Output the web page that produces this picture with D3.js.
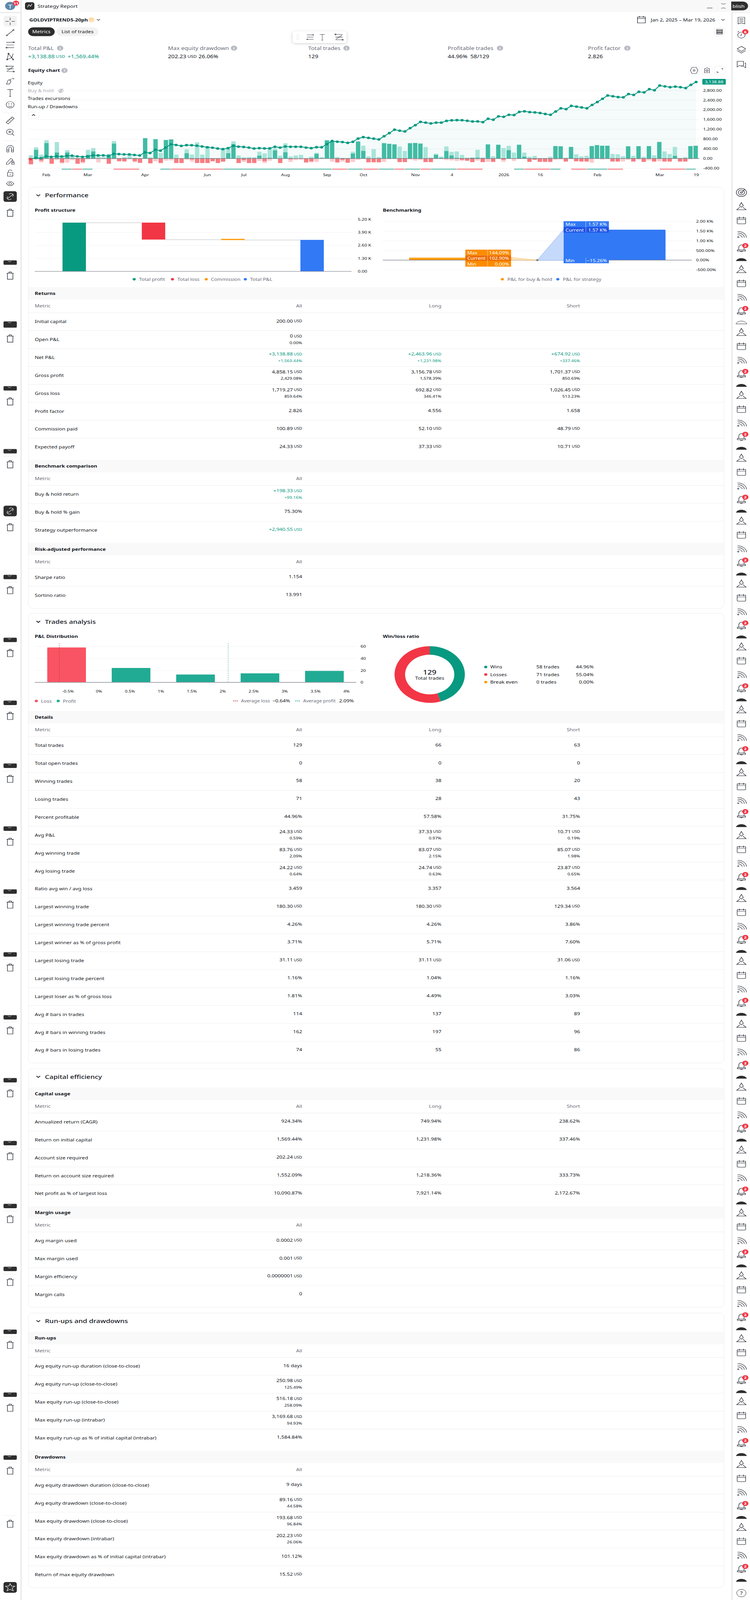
<!DOCTYPE html>
<html>
<head>
<meta charset="utf-8">
<title>Strategy Report</title>
<script src="https://cdn.jsdelivr.net/npm/d3@7"></script>
<style>
	html, body { margin: 0; padding: 0; background: #fff; overflow: hidden; }
	svg { display: block; }
	svg text { font-family: 'Noto Sans', sans-serif; }
</style>
</head>
<body>
<svg id="report" width="1920" height="5088" viewBox="0 0 1920 5088" preserveAspectRatio="none"></svg>
<script>
// equity chart, one entry per closed trade
const equityValues = [
	-25, 25, 10, 95, 65, 95, 82, 112, 116, 86,
	65, 86, 129, 129, 129, 103, 189, 181, 168, 168,
	146, 125, 254, 224, 361, 322, 447, 580, 555, 516,
	550, 546, 525, 494, 460, 443, 408, 383, 426, 516,
	486, 473, 447, 408, 426, 413, 417, 482, 447, 494,
	482, 482, 482, 447, 426, 464, 460, 589, 718, 688,
	675, 641, 684, 817, 877, 847, 813, 783, 912, 1041,
	1183, 1140, 1109, 1245, 1368, 1502, 1472, 1438, 1472, 1472,
	1541, 1566, 1576, 1571, 1546, 1517, 1522, 1492, 1630, 1591,
	1729, 1709, 1793, 1783, 1912, 1936, 1902, 1892, 1867, 1828,
	1793, 1927, 2060, 2025, 2159, 2129, 2095, 2060, 2198, 2317,
	2450, 2584, 2554, 2519, 2510, 2643, 2608, 2737, 2712, 2845,
	2801, 2994, 2959, 2924, 2949, 2924, 2890, 3023, 3138.88
]
const runUpFull = [
	133, 459, 159, 752, 0, 675, 116, 344, 95, 0,
	0, 353, 430, 159, 60, 189, 718, 0, 60, 181,
	30, 0, 834, 52, 791, 232, 757, 783, 159, 0,
	374, 159, 662, 159, 503, 0, 0, 396, 396, 705,
	125, 52, 60, 52, 275, 211, 417, 417, 116, 623,
	82, 125, 150, 0, 73, 236, 60, 748, 718, 60,
	26, 22, 280, 697, 525, 86, 383, 60, 628, 602,
	580, 490, 310, 627, 637, 612, 469, 44, 198, 84,
	494, 272, 291, 148, 35, 44, 356, 44, 578, 94,
	563, 430, 519, 242, 563, 242, 69, 109, 0, 0,
	69, 509, 499, 35, 474, 173, 84, 109, 509, 548,
	524, 524, 188, 173, 94, 499, 109, 504, 69, 509,
	133, 677, 291, 183, 474, 20, 59, 509, 524
]
const runUpClosed = [
	0, 356, 0, 632, 0, 245, 0, 245, 0, 0,
	0, 146, 288, 0, 0, 103, 611, 0, 0, 17,
	0, 0, 834, 0, 791, 0, 757, 783, 0, 0,
	215, 0, 0, 0, 0, 0, 0, 0, 215, 589,
	0, 0, 0, 0, 116, 0, 30, 331, 0, 254,
	0, 0, 0, 0, 0, 189, 0, 748, 718, 0,
	0, 0, 202, 697, 310, 0, 0, 0, 628, 602,
	580, 0, 0, 627, 637, 612, 0, 0, 148, 25,
	306, 124, 25, 0, 0, 25, 35, 0, 578, 0,
	563, 0, 341, 0, 563, 74, 0, 0, 0, 0,
	0, 509, 499, 0, 474, 0, 0, 0, 509, 548,
	524, 524, 0, 0, 0, 499, 0, 504, 0, 509,
	0, 677, 0, 0, 109, 0, 0, 509, 524
]
const drawdownClosed = [
	237, 0, 89, 0, 215, 0, 163, 0, 0, 215,
	142, 0, 0, 0, 0, 215, 0, 112, 112, 0,
	112, 176, 0, 198, 0, 185, 0, 0, 185, 185,
	0, 43, 185, 185, 185, 112, 185, 129, 0, 0,
	185, 69, 185, 185, 0, 112, 0, 0, 185, 0,
	34, 0, 0, 155, 120, 0, 13, 0, 0, 163,
	56, 172, 0, 0, 0, 155, 155, 155, 0, 0,
	0, 145, 148, 0, 0, 0, 148, 148, 0, 0,
	0, 0, 0, 54, 89, 148, 0, 148, 0, 138,
	0, 54, 0, 0, 0, 0, 138, 54, 138, 138,
	138, 0, 0, 124, 0, 114, 124, 124, 0, 0,
	0, 0, 124, 124, 0, 0, 124, 0, 138, 0,
	124, 0, 124, 124, 0, 124, 124, 0, 0
]
const drawdownFull = [
	237, 50, 163, 0, 215, 69, 206, 172, 69, 215,
	198, 34, 26, 163, 26, 215, 34, 112, 142, 34,
	155, 176, 0, 198, 120, 185, 90, 77, 185, 185,
	56, 129, 185, 185, 185, 112, 185, 129, 0, 0,
	185, 142, 185, 185, 99, 185, 90, 0, 185, 0,
	142, 69, 56, 176, 155, 142, 13, 0, 129, 163,
	129, 172, 142, 56, 0, 155, 155, 155, 142, 25,
	0, 145, 148, 40, 89, 64, 148, 148, 25, 25,
	64, 79, 104, 99, 104, 148, 89, 148, 138, 138,
	0, 138, 0, 99, 25, 0, 138, 54, 138, 138,
	138, 54, 40, 124, 25, 114, 124, 124, 173, 0,
	44, 25, 124, 124, 124, 54, 124, 40, 138, 79,
	124, 114, 124, 124, 0, 124, 124, 30, 0
]
const equityTicks = [-400, 0, 400, 800, 1200, 1600, 2000, 2400, 2800]
const dateTickTrades = [3, 11, 22, 34, 41, 49, 57, 64, 74, 81, 91, 98, 109, 121, 128]
const dateTickLabels = ['Feb', 'Mar', 'Apr', 'Jun', 'Jul', 'Aug', 'Sep', 'Oct', 'Nov', '4', '2026', '16', 'Feb', 'Mar', '19']
// trade index at which each coloured strip starts and ends
const stripStarts = [6, 8, 10, 16, 25, 27, 37, 58, 61, 64, 67, 70, 72, 75, 77, 82, 93, 95, 100, 104, 107, 111, 121, 126]
const stripEnds = [8, 10, 12, 21, 27, 37, 58, 61, 64, 67, 70, 72, 75, 77, 82, 87, 95, 100, 102, 107, 111, 114, 126, 128]
const stripKinds = ['up', 'down', 'up', 'down', 'up', 'down', 'up', 'down', 'up', 'down', 'up', 'down', 'up', 'down', 'up', 'down', 'up', 'down', 'up', 'down', 'up', 'down', 'down', 'up']

// profit structure
const structureNames = ['Total profit', 'Total loss', 'Commission', 'Total P&L']
const structureTops = [4858.15, 4858.15, 3239.77, 3138.88]
const structureBottoms = [0, 3170, 3120, 0]
const structureTicks = [0, 1300, 2600, 3900, 5200]

// benchmarking
const benchNames = ['P&L for buy & hold', 'P&L for strategy']
const benchMax = [144.09, 1570]
const benchCurrent = [102.9, 1569.44]
const benchMin = [0, -15.26]
const benchTicks = [-500, 0, 500, 1000, 1500, 2000]

// P&L distribution
const pnlBins = ['-0.5', '0.5', '1.5', '2.5', '3.5']
const pnlCounts = [58, 24, 13, 15, 19]
const pnlTicks = [-0.5, 0, 0.5, 1, 1.5, 2, 2.5, 3, 3.5, 4]
const pnlCountTicks = [0, 20, 40, 60]
const avgLossPct = -0.64
const avgProfitPct = 2.09

// win/loss ratio
const outcomeNames = ['Wins', 'Losses', 'Break even']
const outcomeTrades = [58, 71, 0]
const outcomePercents = ['44.96%', '55.04%', '0.00%']

// tables: metric, all, long, short. A "|" splits amount and percent lines.
const returnsRows = [
	['Initial capital', '200.00 USD'],
	['Open P&L', '0 USD|0.00%'],
	['Net P&L', '+3,138.88 USD|+1,569.44%', '+2,463.96 USD|+1,231.98%', '+674.92 USD|+337.46%'],
	['Gross profit', '4,858.15 USD|2,429.08%', '3,156.78 USD|1,578.39%', '1,701.37 USD|850.69%'],
	['Gross loss', '1,719.27 USD|859.64%', '692.82 USD|346.41%', '1,026.45 USD|513.23%'],
	['Profit factor', '2.826', '4.556', '1.658'],
	['Commission paid', '100.89 USD', '52.10 USD', '48.79 USD'],
	['Expected payoff', '24.33 USD', '37.33 USD', '10.71 USD']
]
const benchmarkRows = [
	['Buy & hold return', '+198.33 USD|+99.16%'],
	['Buy & hold % gain', '75.30%'],
	['Strategy outperformance', '+2,940.55 USD']
]
const riskRows = [
	['Sharpe ratio', '1.154'],
	['Sortino ratio', '13.991']
]
const detailsRows = [
	['Total trades', '129', '66', '63'],
	['Total open trades', '0', '0', '0'],
	['Winning trades', '58', '38', '20'],
	['Losing trades', '71', '28', '43'],
	['Percent profitable', '44.96%', '57.58%', '31.75%'],
	['Avg P&L', '24.33 USD|0.59%', '37.33 USD|0.97%', '10.71 USD|0.19%'],
	['Avg winning trade', '83.76 USD|2.09%', '83.07 USD|2.15%', '85.07 USD|1.98%'],
	['Avg losing trade', '24.22 USD|0.64%', '24.74 USD|0.63%', '23.87 USD|0.65%'],
	['Ratio avg win / avg loss', '3.459', '3.357', '3.564'],
	['Largest winning trade', '180.30 USD', '180.30 USD', '129.34 USD'],
	['Largest winning trade percent', '4.26%', '4.26%', '3.86%'],
	['Largest winner as % of gross profit', '3.71%', '5.71%', '7.60%'],
	['Largest losing trade', '31.11 USD', '31.11 USD', '31.06 USD'],
	['Largest losing trade percent', '1.16%', '1.04%', '1.16%'],
	['Largest loser as % of gross loss', '1.81%', '4.49%', '3.03%'],
	['Avg # bars in trades', '114', '137', '89'],
	['Avg # bars in winning trades', '162', '197', '96'],
	['Avg # bars in losing trades', '74', '55', '86']
]
const capitalRows = [
	['Annualized return (CAGR)', '924.34%', '749.94%', '238.62%'],
	['Return on initial capital', '1,569.44%', '1,231.98%', '337.46%'],
	['Account size required', '202.24 USD'],
	['Return on account size required', '1,552.09%', '1,218.36%', '333.73%'],
	['Net profit as % of largest loss', '10,090.87%', '7,921.14%', '2,172.67%']
]
const marginRows = [
	['Avg margin used', '0.0002 USD'],
	['Max margin used', '0.001 USD'],
	['Margin efficiency', '0.0000001 USD'],
	['Margin calls', '0']
]
const runUpRows = [
	['Avg equity run-up duration (close-to-close)', '16 days'],
	['Avg equity run-up (close-to-close)', '250.98 USD|125.49%'],
	['Max equity run-up (close-to-close)', '516.18 USD|258.09%'],
	['Max equity run-up (intrabar)', '3,169.68 USD|94.93%'],
	['Max equity run-up as % of initial capital (intrabar)', '1,584.84%']
]
const drawdownRows = [
	['Avg equity drawdown duration (close-to-close)', '9 days'],
	['Avg equity drawdown (close-to-close)', '89.16 USD|44.58%'],
	['Max equity drawdown (close-to-close)', '193.68 USD|96.84%'],
	['Max equity drawdown (intrabar)', '202.23 USD|26.06%'],
	['Max equity drawdown as % of initial capital (intrabar)', '101.12%'],
	['Return of max equity drawdown', '15.52 USD']
]

const ink = '#131722'
const muted = '#6a6d78'
const teal = '#089981'
const red = '#f23645'
const orange = '#ff9800'
const blue = '#3179f5'
const gridColor = '#f0f0f0'
const lineColor = '#ebebeb'
const baseColor = '#787b86'

// the window can be shorter than the page: squeeze to fit so nothing is lost
const root = d3.select('#report')
	.attr('height', Math.min(5088, window.innerHeight || 5088))

const txt = (x, y, s, o = {}) => (o.g || root).append('text')
	.attr('x', x)
	.attr('y', y)
	.attr('dominant-baseline', 'central')
	.attr('text-anchor', o.anchor || 'start')
	.attr('font-size', o.size || 13.5)
	.attr('font-weight', o.weight || 400)
	.attr('fill', o.fill || ink)
	.text(s)

// amount with the small currency unit
const money = (x, y, s, o = {}) => {
	const parts = s.split(' USD')
	const t = txt(x, y, parts[0], o)
	if (parts.length > 1) {
		t.append('tspan').attr('font-size', (o.size || 13.5) * 0.78).text(' USD')
	}
	return t
}

const dot = (x, y, color, r = 4) => root.append('circle')
	.attr('cx', x).attr('cy', y).attr('r', r).attr('fill', color)

const rect = (x, y, w, h, fill, o = {}) => root.append('rect')
	.attr('x', x).attr('y', y).attr('width', w).attr('height', h)
	.attr('rx', o.rx || 0)
	.attr('fill', fill)
	.attr('stroke', o.stroke || 'none')

const hline = (x1, x2, y, color = lineColor) => root.append('line')
	.attr('x1', x1).attr('x2', x2).attr('y1', y + 0.5).attr('y2', y + 0.5)
	.attr('stroke', color)

const ring = (x, y, r) => `M${x - r} ${y}a${r} ${r} 0 1 0 ${2 * r} 0a${r} ${r} 0 1 0 ${-2 * r} 0`

const iconPaths = {
	crosshair: 'M0-14V-4M0 4V14M-14 0H-4M4 0H14',
	trend: `M-9 9L9-9${ring(-10, 10, 2)}${ring(10, -10, 2)}`,
	fib: `M-12-10H12M-12 0H12M-12 10H12${ring(11, -10, 2)}${ring(-11, 10, 2)}`,
	pattern: `M-9 11L-5-11L5 4L9-11M-9 11L5 4L9 11M-5-11L9 11${ring(-9, 11, 2)}${ring(9, 11, 2)}${ring(-5, -11, 2)}`,
	forecast: `M-11-10H11M-11 0H11M-11 10H11M-9 8L9-8${ring(-11, -10, 2)}${ring(11, 10, 2)}`,
	brush: 'M-11 11L-6-4C-2-6 3-2 2 2L-2 11ZM-2-3L4-9M7-12C8-9 9-8 12-8',
	text: 'M-9-12H9M0-12V14M-3 14H3',
	smile: `${ring(0, 0, 12)}${ring(-4, -3, 0.7)}${ring(4, -3, 0.7)}M-5 4C-3 8 3 8 5 4`,
	ruler: 'M-12 7L6-13L12-8L-6 13ZM-7 2L-4 5M-2-3L1 0M3-8L6-5',
	zoomin: `${ring(-1, -2, 10)}M6 5L12 12M-1-7V3M-6-2H4`,
	magnet: 'M-10 12V-2C-10-16 10-16 10-2V12H4V-2C4-8-4-8-4-2V12ZM-10 5H-4M4 5H10',
	pencil: 'M-11 7L2-10L8-5L-5 12L-11 13ZM5 6H12V13H5ZM6 6V2C6-1 11-1 11 2V6',
	lock: 'M-8-2H8V12H-8ZM-5-2V-7C-5-13 5-13 5-7M0 3V7',
	eye: `M-11 1C-4-10 4-10 11 1C4 12-4 12-11 1Z${ring(0, 1, 4)}`,
	hidden: `M-11 1C-4-10 4-10 11 1C4 12-4 12-11 1Z${ring(0, 1, 4)}M-8 10L8-10`,
	chain: 'M-8 8L8-8M-3-8L-1-10C4-14 12-6 8-2L6 0M3 8L1 10C-4 14-12 6-8 2L-6 0',
	trash: 'M-7-7H7V12H-7ZM-9-7H9M-3-7V-11H3V-7',
	star: 'M0-12L3.5-4H12L5 2L8 11L0 6L-8 11L-5 2L-12-4H-3.5Z',
	list: 'M-10-12H10V13L0 9L-10 13ZM-6-6H6M-6-1H6M-6 4H6',
	alarm: `${ring(0, 2, 11)}M0-4V3H-5M-11-9L-7-13`,
	layers: 'M0-12L12-3L0 6L-12-3ZM-12 3L0 12L12 3',
	chat: 'M-12-11H6V4H-6L-12 9ZM9-5H12V12L7 7H-2',
	target: `${ring(0, 0, 13)}${ring(0, 0, 8)}${ring(0, 0, 2.5)}M2 -2L9-10`,
	triangle: 'M0-12L5-2L0 3L-5-2ZM-4 3L-12 11H12L4 3',
	calendar: 'M-12-8H12V11C12 12 11 13 10 13H-10C-11 13-12 12-12 11ZM-12-2H12M-6-12V-5M6-12V-5',
	signal: `${ring(-9, 10, 2)}M-11 2C-4 1 3 8 2 12M-11-4C-1-5 9 3 8 12M-11-10C3-11 15 1 14 12`,
	bell: 'M-7 5V-3C-7-9-3-12 0-12C3-12 7-9 7-3V5ZM-11 5H11V9H-11ZM-3 9C-3 12 3 12 3 9',
	settings: `M-7-12H7L12 0L7 12H-7L-12 0Z${ring(0, 0, 3)}`,
	camera: `M-8-7H-4L-2-10H2L4-7H8V9H-8Z${ring(0, 1, 3.5)}`,
	expand: 'M4-8H9V-3M-4 8H-9V3',
	calendarSmall: 'M-10-9H10V10H-10ZM-10-4H10M-5-12V-7M5-12V-7',
	rows: 'M-7-7H7V-3H-7ZM-7-1.5H7V2.5H-7ZM-7 4H7V8H-7Z',
	collapse: 'M-8-12C-8-8 8-8 8-12M-8 12C-8 8 8 8 8 12',
	chevDown: 'M-4-2L0 2L4-2',
	chevUp: 'M-4 2L0-2L4 2'
}

const icon = (name, x, y, o = {}) => root.append('path')
	.attr('d', iconPaths[name])
	.attr('transform', `translate(${x},${y}) scale(${o.scale || 1})`)
	.attr('fill', o.fill || 'none')
	.attr('stroke', o.stroke || ink)
	.attr('stroke-width', o.width || 1.3)

const badge = (x, y, s) => {
	dot(x, y, red, 8)
	txt(x, y, s, { anchor: 'middle', fill: '#fff', size: 11, weight: 700 })
}

const infoMark = (x, y, s = 'i') => {
	dot(x, y, '#b8bbc3', 8)
	txt(x, y, s, { anchor: 'middle', fill: '#fff', size: 11, weight: 700 })
}

const styleAxis = (g, size = 12) => {
	g.select('.domain').remove()
	g.selectAll('.tick line').attr('stroke', gridColor)
	g.selectAll('.tick text').attr('font-size', size).attr('fill', ink)
}

/* ---- window chrome ---- */
const drawChrome = () => {
	rect(0, 0, 1920, 38, '#f8f8f8')
	rect(0, 0, 52, 38, '#fff')
	rect(0, 38, 52, 4, '#ececec')
	rect(56, 0, 146, 38, '#fff', { rx: 4 })
	rect(52, 0, 4, 5088, '#ececec')
	rect(1872, 38, 4, 5050, '#ececec')
	rect(1876, 38, 44, 4, '#f4f4f4')

	dot(26, 19, '#5f88ac', 13)
	txt(26, 20, 'T', { anchor: 'middle', fill: '#fff', size: 19 })
	badge(41, 10, '11')

	rect(64, 7, 24, 24, '#2e2e2e', { rx: 6 })
	root.append('path').attr('d', 'M70 23L74 15L78 20L82 12').attr('stroke', '#fff').attr('fill', 'none').attr('stroke-width', 1.4)
	txt(96, 19, 'Strategy Report', { size: 14 })

	hline(1810, 1824, 25, ink)
	icon('collapse', 1852, 19, { scale: 0.7 })
	rect(1872, 5, 43, 28, '#2e2e2e', { rx: 14 })
	rect(1872, 5, 14, 28, '#2e2e2e')
	txt(1875, 19, 'blish', { fill: '#fff', size: 14 })

	rect(9, 50, 34, 34, '#f2f2f2', { rx: 6 })
	const toolbar = [
		['crosshair', 68], ['trend', 104], ['fib', 143], ['pattern', 180], ['forecast', 219],
		['brush', 258], ['text', 295], ['smile', 333], ['ruler', 383], ['zoomin', 421],
		['magnet', 473], ['pencil', 512], ['lock', 550], ['eye', 583]
	]
	toolbar.forEach(([name, y]) => icon(name, 26, y, { scale: 0.85 }))
	hline(8, 44, 358)
	hline(8, 44, 447)

	rect(9, 608, 34, 34, '#2e2e2e', { rx: 6 })
	icon('chain', 26, 625, { stroke: '#fff', scale: 0.9 })
	for (let y = 676; y <= 4676; y += 200) {
		icon('trash', 26, y)
		hline(8, 44, y - 25)
		if (y > 676 && y !== 1676) {
			const h = y === 1076 ? 20 : 14
			rect(9, y - 34 - h, 34, h, '#2e2e2e', { rx: 3 })
			root.append('path').attr('d', `M${20} ${y - 34 - h + 1}q4 7 9 0`)
				.attr('stroke', '#fff').attr('fill', 'none')
		}
	}
	rect(9, 1608, 34, 34, '#2e2e2e', { rx: 6 })
	icon('chain', 26, 1625, { stroke: '#fff', scale: 0.9 })
	hline(8, 44, 4819)
	icon('trash', 26, 4845)
	rect(9, 5031, 34, 34, '#2e2e2e', { rx: 6 })
	icon('star', 26, 5048, { stroke: '#fff' })

	icon('list', 1898, 65, { scale: 0.85 })
	icon('alarm', 1898, 110, { scale: 0.85 })
	badge(1908, 101, '6')
	icon('layers', 1898, 158, { scale: 0.9 })
	icon('chat', 1898, 205, { scale: 0.9 })
	icon('target', 1898, 612)
	for (let k = 0; k <= 21; k++) {
		const y = 200 * k
		icon('triangle', 1898, 656 + y)
		icon('calendar', 1898, 700 + y, { scale: 0.9 })
		icon('signal', 1898, 745 + y, { scale: 0.9 })
		icon('bell', 1898, 790 + y, { scale: 0.95 })
		badge(1908, 781 + y, '2')
		root.append('path')
			.attr('d', `M1884 ${830 + y}C1888 ${818 + y} 1908 ${818 + y} 1912 ${830 + y}Z`)
			.attr('fill', k === 1 ? 'none' : '#2e2e2e')
			.attr('stroke', k === 1 ? ink : 'none')
	}
	rect(1880, 5050, 36, 32, '#fff')
	dot(1898, 5066, '#fff', 12).attr('stroke', ink)
	txt(1898, 5066, '?', { anchor: 'middle', size: 15 })
}

/* ---- report header ---- */
const drawHeader = () => {
	txt(75, 63, 'GOLDVIPTREND5-20ph', { size: 13.5, weight: 700 })
	dot(234, 63, '#fdebd0', 9)
	icon('calendarSmall', 234, 63, { stroke: orange, scale: 0.4 })
	icon('chevDown', 252, 63)

	rect(72, 87, 68, 28, '#2e2e2e', { rx: 14 })
	txt(106, 101, 'Metrics', { anchor: 'middle', fill: '#fff', size: 13.5 })
	rect(145, 87, 107, 28, '#f2f2f2', { rx: 14 })
	txt(198.5, 101, 'List of trades', { anchor: 'middle', size: 13.5 })

	icon('calendarSmall', 1642, 63)
	txt(1666, 63, 'Jan 2, 2025 – Mar 19, 2026', { size: 13.5 })
	icon('chevDown', 1851, 63)
	rect(1828.5, 87.5, 27, 27, '#fff', { rx: 6, stroke: lineColor })
	icon('rows', 1842, 100.5)

	rect(749, 99, 138, 38, '#fff', { rx: 6 })
		.style('filter', 'drop-shadow(0 2px 4px rgba(0,0,0,.18))')
	root.append('path').attr('d', 'M760 112h1M764 112h1M760 118h1M764 118h1M760 124h1M764 124h1')
		.attr('stroke', '#b8bbc3').attr('stroke-width', 2)
	icon('fib', 794, 118, { scale: 0.7 })
	icon('text', 825, 118, { scale: 0.7 })
	icon('forecast', 868, 118, { scale: 0.85 })

	const stats = [
		[72, 'Total P&L', 154],
		[430, 'Max equity drawdown', 599],
		[789, 'Total trades', 887],
		[1146, 'Profitable trades', 1280],
		[1505, 'Profit factor', 1606]
	]
	stats.forEach(([x, name, markX]) => {
		txt(x, 153, name, { size: 15, fill: muted })
		infoMark(markX, 153)
	})
	const plain = { size: 15 }
	const green = { size: 15, fill: teal }
	money(72, 179, '+3,138.88 USD', green)
	txt(173, 179, '+1,569.44%', green)
	money(430, 179, '202.23 USD', plain)
	txt(508, 179, '26.06%', plain)
	txt(789, 179, '129', plain)
	txt(1146, 179, '44.96%', plain)
	txt(1204, 179, '58/129', plain)
	txt(1505, 179, '2.826', plain)
}

/* ---- equity chart ---- */
const drawEquity = () => {
	const trades = d3.range(equityValues.length)
	const x = d3.scalePoint().domain(trades).range([78, 1782])
	const step = x.step()
	const band = d3.scaleBand().domain(trades)
		.range([78 - step / 2, 1782 + step / 2]).padding(0.17)
	const y = d3.scaleLinear().domain([-400, 2800]).range([535, 287])

	const yAxis = d3.axisRight(y)
		.tickValues(equityTicks)
		.tickSize(-1718)
		.tickPadding(10)
		.tickFormat((d) => d3.format(',.2f')(d).replace('−', '-'))
	const yg = root.append('g').attr('transform', 'translate(1790,0)').call(yAxis)
	styleAxis(yg)

	root.append('path').datum(equityValues)
		.attr('fill', teal).attr('fill-opacity', 0.045)
		.attr('d', d3.area().x((d, i) => x(i)).y0(y(0)).y1((d) => y(d)))

	const bars = (values, color, up) => root.append('g')
		.selectAll('rect').data(values).join('rect')
		.attr('x', (d, i) => band(i))
		.attr('width', band.bandwidth())
		.attr('y', (d) => up ? y(d) : y(0))
		.attr('height', (d) => up ? y(0) - y(d) : y(-d) - y(0))
		.attr('fill', color)

	bars(runUpFull, '#a8e4d9', true)
	bars(runUpClosed, '#42bba4', true)
	bars(drawdownFull, '#fccbcd', false)
	bars(drawdownClosed, '#f77c80', false)

	root.append('line')
		.attr('x1', 72).attr('x2', 1790).attr('y1', y(0)).attr('y2', y(0))
		.attr('stroke', baseColor).attr('stroke-width', 2)

	root.append('path').datum(equityValues)
		.attr('fill', 'none').attr('stroke', teal).attr('stroke-width', 2.5)
		.attr('d', d3.line().x((d, i) => x(i)).y((d) => y(d)))
	root.append('g').selectAll('circle').data(equityValues).join('circle')
		.attr('cx', (d, i) => x(i))
		.attr('cy', (d) => y(d))
		.attr('r', 4)
		.attr('fill', (d) => d < 0 ? red : teal)

	root.append('g').selectAll('rect').data(stripStarts).join('rect')
		.attr('x', (d) => x(d))
		.attr('width', (d, i) => x(stripEnds[i]) - x(d) - 1)
		.attr('y', 536)
		.attr('height', 4)
		.attr('fill', (d, i) => stripKinds[i] === 'up' ? '#81cdbf' : '#fb9aa0')

	const xAxis = d3.axisBottom(x)
		.tickValues(dateTickTrades)
		.tickSize(0)
		.tickPadding(0)
		.tickFormat((d, i) => dateTickLabels[i])
	const xg = root.append('g').attr('transform', 'translate(0,552)').call(xAxis)
	styleAxis(xg)

	rect(1798, 251, 60, 18, teal, { rx: 2 })
	txt(1828, 260, '3,138.88', { anchor: 'middle', fill: '#fff', size: 12 })

	txt(72, 224, 'Equity chart', { size: 13.5, weight: 700 })
	infoMark(165, 224, '?')
	const switches = [['Equity', 263, 40, ink], ['Buy & hold', 288, 100, '#a9acb5'], ['Trades excursions', 312, 106, ink], ['Run-up / Drawdowns', 338, 124, ink]]
	switches.forEach(([name, ly, w, color]) => {
		rect(70, ly - 10, w + 6, 20, '#fff')
		txt(71, ly, name, { fill: color, size: 13 })
	})
	icon('hidden', 156, 288, { scale: 0.65, stroke: '#6a6d78' })
	rect(72.5, 356.5, 27, 19, '#fff', { rx: 3, stroke: lineColor })
	icon('chevUp', 86, 366, { width: 1.6 })

	const buttons = [[1763, 'settings'], [1796, 'camera'], [1829, 'expand']]
	buttons.forEach(([bx, name]) => {
		rect(bx + 0.5, 210.5, 27, 27, '#fff', { rx: 6, stroke: lineColor })
		icon(name, bx + 14, 224, { scale: 0.8 })
	})
}

const card = (top, bottom) => rect(72.5, top + 0.5, 1781, bottom - top, '#fff', { rx: 12, stroke: lineColor })

const sectionTitle = (y, s) => {
	icon('chevDown', 98, y, { width: 1.8, scale: 1.2 })
	txt(115, y, s, { size: 18, weight: 500 })
}

const legendItem = (dx, tx, y, color, s) => {
	dot(dx, y, color)
	txt(tx, y, s, { fill: muted, size: 13 })
}

/* ---- performance charts ---- */
const drawProfitStructure = () => {
	txt(89, 668, 'Profit structure', { size: 13.5, weight: 700 })
	const colors = [teal, red, orange, blue]
	const y = d3.scaleLinear().domain([0, 5200]).range([863, 697])
	const x = d3.scaleBand().domain(structureNames).range([89, 900]).paddingInner(0.705).paddingOuter(0.35)

	const axis = d3.axisRight(y)
		.tickValues(structureTicks)
		.tickSize(-811)
		.tickPadding(16)
		.tickFormat((d) => d === 0 ? '0.00' : d3.format('.2f')(d / 1000) + ' K')
	styleAxis(root.append('g').attr('transform', 'translate(900,0)').call(axis))

	root.append('g').selectAll('rect').data(structureNames).join('rect')
		.attr('x', (d) => x(d))
		.attr('width', x.bandwidth())
		.attr('y', (d, i) => y(structureTops[i]))
		.attr('height', (d, i) => y(structureBottoms[i]) - y(structureTops[i]))
		.attr('fill', (d, i) => colors[i])

	const links = [[0, 1, structureTops[0]], [1, 2, structureBottoms[1]], [2, 3, structureTops[3]]]
	root.append('g').selectAll('line').data(links).join('line')
		.attr('x1', (d) => x(structureNames[d[0]]) + x.bandwidth())
		.attr('x2', (d) => x(structureNames[d[1]]))
		.attr('y1', (d) => y(d[2]) + 0.5)
		.attr('y2', (d) => y(d[2]) + 0.5)
		.attr('stroke', baseColor)
		.attr('stroke-dasharray', '2 1.5')

	hline(89, 900, y(0) - 0.5, baseColor).attr('stroke-width', 1.5)

	legendItem(343.5, 356, 888, teal, structureNames[0])
	legendItem(441.5, 454, 888, red, structureNames[1])
	legendItem(528, 540, 888, orange, structureNames[2])
	legendItem(628, 640, 888, blue, structureNames[3])
}

const drawBenchmark = () => {
	txt(980, 668, 'Benchmarking', { size: 13.5, weight: 700 })
	const y = d3.scaleLinear().domain([-500, 2000]).range([858, 704])
	const x = d3.scaleBand().domain(benchNames).range([980, 1771]).paddingInner(0.34).paddingOuter(0.17)
	const w = x.bandwidth()
	const [holdX, stratX] = benchNames.map((d) => x(d))
	const pivot = (holdX + w + stratX) / 2

	const axis = d3.axisRight(y)
		.tickValues(benchTicks)
		.tickSize(-791)
		.tickPadding(11)
		.tickFormat((d) => Math.abs(d) >= 1000 ? d3.format('.2f')(d / 1000) + ' K%' : d3.format('.2f')(d).replace('−', '-') + '%')
	styleAxis(root.append('g').attr('transform', 'translate(1771,0)').call(axis))

	rect(holdX, y(benchMax[0]), w, y(benchCurrent[0]) - y(benchMax[0]), '#ffc370')
	rect(holdX, y(benchCurrent[0]), w, y(0) - y(benchCurrent[0]), orange)
	rect(stratX, y(benchCurrent[1]), w, y(0) - y(benchCurrent[1]), blue, { rx: 2 })
	hline(980, 1771, y(0) - 0.5, baseColor).attr('stroke-width', 1.5)

	root.append('path')
		.attr('d', `M${holdX + w} ${y(benchMax[0])}L${pivot} ${y(0)}L${holdX + w} ${y(0)}Z`)
		.attr('fill', '#fce3bb').attr('stroke', orange).attr('stroke-dasharray', '2 2')
	root.append('path')
		.attr('d', `M${pivot} ${y(0)}L${stratX} ${y(benchCurrent[1])}L${stratX} ${y(0)}Z`)
		.attr('fill', '#c5d9fb')
	root.append('line')
		.attr('x1', pivot).attr('y1', y(0)).attr('x2', stratX).attr('y2', y(benchCurrent[1]))
		.attr('stroke', blue).attr('stroke-dasharray', '3 2')
	root.append('line')
		.attr('x1', pivot).attr('y1', y(0) + 1).attr('x2', stratX).attr('y2', y(benchMin[1]))
		.attr('stroke', blue).attr('stroke-dasharray', '1 2')
	dot(pivot, y(0), baseColor, 3)

	// value tags sit on the bars, stacked around the current value
	const tag = (tx, cy, name, value, color, labelW, valueW) => {
		rect(tx, cy - 9, labelW + valueW, 18, color)
		root.append('line').attr('x1', tx + labelW).attr('x2', tx + labelW).attr('y1', cy - 9).attr('y2', cy + 9).attr('stroke', '#fff').attr('stroke-opacity', 0.7)
		txt(tx + 5, cy, name, { fill: '#fff', size: 13 })
		txt(tx + labelW + valueW - 5, cy, value, { fill: '#fff', size: 13, anchor: 'end' })
	}
	const holdTag = holdX + w - 117
	const holdMid = y(benchCurrent[0])
	tag(holdTag, holdMid - 18, 'Max', '144.09%', '#fb8c00', 57, 60)
	tag(holdTag, holdMid, 'Current', '102.90%', '#ec6c00', 57, 60)
	tag(holdTag, holdMid + 18, 'Min', '0.00%', '#fb8c00', 57, 60)
	const stratMid = y(benchCurrent[1])
	tag(stratX, stratMid - 18, 'Max', '1.57 K%', blue, 57, 59)
	tag(stratX, stratMid, 'Current', '1.57 K%', '#1e53e5', 57, 59)
	tag(stratX, y(benchMin[1]), 'Min', '−15.26%', blue, 57, 59)

	legendItem(1286, 1299, 888, orange, benchNames[0])
	legendItem(1428, 1441, 888, blue, benchNames[1])
}

/* ---- trades analysis charts ---- */
const drawDistribution = () => {
	txt(89, 2024, 'P&L Distribution', { size: 13.5, weight: 700 })
	const y = d3.scaleLinear().domain([0, 60]).range([2170, 2055])
	const x = d3.scaleLinear().domain([0, 1]).range([253, 411.4])
	const bins = d3.scaleBand().domain(pnlBins).range([88, 913]).paddingInner(0.4).paddingOuter(0.2)

	const yAxis = d3.axisRight(y).tickValues(pnlCountTicks).tickSize(-823).tickPadding(11)
	styleAxis(root.append('g').attr('transform', 'translate(912,0)').call(yAxis))
	const xAxis = d3.axisBottom(x).tickValues(pnlTicks).tickSize(0).tickPadding(0)
		.tickFormat((d) => String(d).replace('−', '-') + '%')
	styleAxis(root.append('g').attr('transform', 'translate(0,2194)').call(xAxis), 11.5)

	root.append('g').selectAll('rect').data(pnlCounts).join('rect')
		.attr('x', (d, i) => bins(pnlBins[i]))
		.attr('width', bins.bandwidth())
		.attr('y', (d) => y(d))
		.attr('height', (d) => y(0) - y(d) - 1)
		.attr('rx', 1)
		.attr('fill', (d, i) => i === 0 ? '#f95463' : '#22ab94')
	hline(89, 912, y(0) - 0.5, baseColor).attr('stroke-width', 1.5)

	const marks = [[avgLossPct, '#b22833'], [avgProfitPct, teal]]
	root.append('g').selectAll('line').data(marks).join('line')
		.attr('x1', (d) => x(d[0]))
		.attr('x2', (d) => x(d[0]))
		.attr('y1', 2045)
		.attr('y2', y(0))
		.attr('stroke', (d) => d[1])
		.attr('stroke-dasharray', '3 3')

	legendItem(93, 105, 2229, '#f95463', 'Loss')
	legendItem(149, 161, 2229, '#22ab94', 'Profit')
	const dash = (x1, color) => root.append('line')
		.attr('x1', x1).attr('x2', x1 + 12).attr('y1', 2229).attr('y2', 2229)
		.attr('stroke', color).attr('stroke-width', 2).attr('stroke-dasharray', '2.5 2')
	dash(597, '#b22833')
	txt(617, 2229, 'Average loss', { fill: muted, size: 12.5 })
	txt(697, 2229, '−0.64%', { size: 13.5 })
	dash(756, teal)
	txt(776, 2229, 'Average profit', { fill: muted, size: 12.5 })
	txt(868, 2229, '2.09%', { size: 13.5 })
}

const drawDonut = () => {
	txt(980, 2024, 'Win/loss ratio', { size: 13.5, weight: 700 })
	const colors = [teal, red, orange]
	const pie = d3.pie().sort(null)(outcomeTrades)
	const arc = d3.arc().innerRadius(63).outerRadius(90)
	root.append('g').attr('transform', 'translate(1100,2145)')
		.selectAll('path').data(pie).join('path')
		.attr('d', arc)
		.attr('fill', (d, i) => colors[i])
	txt(1100, 2137, d3.sum(outcomeTrades), { anchor: 'middle', size: 20, weight: 500 })
	txt(1100, 2157, 'Total trades', { anchor: 'middle', size: 13.5 })
	outcomeNames.forEach((name, i) => {
		const y = 2121 + 24 * i
		dot(1243.5, y, colors[i])
		txt(1255, y, name, { size: 13.5 })
		txt(1373, y, `${outcomeTrades[i]} trades`, { size: 13.5 })
		txt(1520, y, outcomePercents[i], { anchor: 'end', size: 13.5 })
	})
}

/* ---- metric tables ---- */
const columnRight = [773.5, 1130, 1485]
const columnNames = ['All', 'Long', 'Short']

const drawTable = (top, title, rows, columns) => {
	rect(73, top, 1780, 40, '#f9f9f9')
	txt(89, top + 20, title, { size: 13.5, weight: 700 })
	txt(89, top + 60, 'Metric', { fill: muted, size: 13.5 })
	columnNames.slice(0, columns).forEach((name, i) => {
		txt(columnRight[i], top + 60, name, { fill: muted, size: 13.5, anchor: 'end' })
	})
	hline(73, 1853, top + 81)
	rows.forEach((row, r) => {
		const rowTop = top + 81 + r * 57
		const mid = rowTop + 28.5
		if (r > 0) {
			hline(73, 1853, rowTop)
		}
		txt(89, mid, row[0], { size: 13.5 })
		row.slice(1).forEach((cell, c) => {
			const [main, sub] = cell.split('|')
			const fill = main.startsWith('+') ? teal : ink
			money(columnRight[c], sub ? mid - 11 : mid - 2, main, { anchor: 'end', size: 13.5, fill })
			if (sub) {
				txt(columnRight[c], mid + 10, sub, { anchor: 'end', size: 11.5, fill })
			}
		})
	})
}

drawChrome()
drawHeader()
drawEquity()

card(594, 1934)
sectionTitle(621, 'Performance')
drawProfitStructure()
drawBenchmark()
drawTable(913, 'Returns', returnsRows, 3)
drawTable(1462, 'Benchmark comparison', benchmarkRows, 1)
drawTable(1726, 'Risk-adjusted performance', riskRows, 1)

card(1950, 3380)
sectionTitle(1977, 'Trades analysis')
drawDistribution()
drawDonut()
drawTable(2261, 'Details', detailsRows, 3)

card(3397, 4157)
sectionTitle(3424, 'Capital efficiency')
drawTable(3458, 'Capital usage', capitalRows, 3)
drawTable(3836, 'Margin usage', marginRows, 1)

card(4175, 5048)
sectionTitle(4201, 'Run-ups and drawdowns')
drawTable(4235, 'Run-ups', runUpRows, 1)
drawTable(4613, 'Drawdowns', drawdownRows, 1)
</script>
</body>
</html>
